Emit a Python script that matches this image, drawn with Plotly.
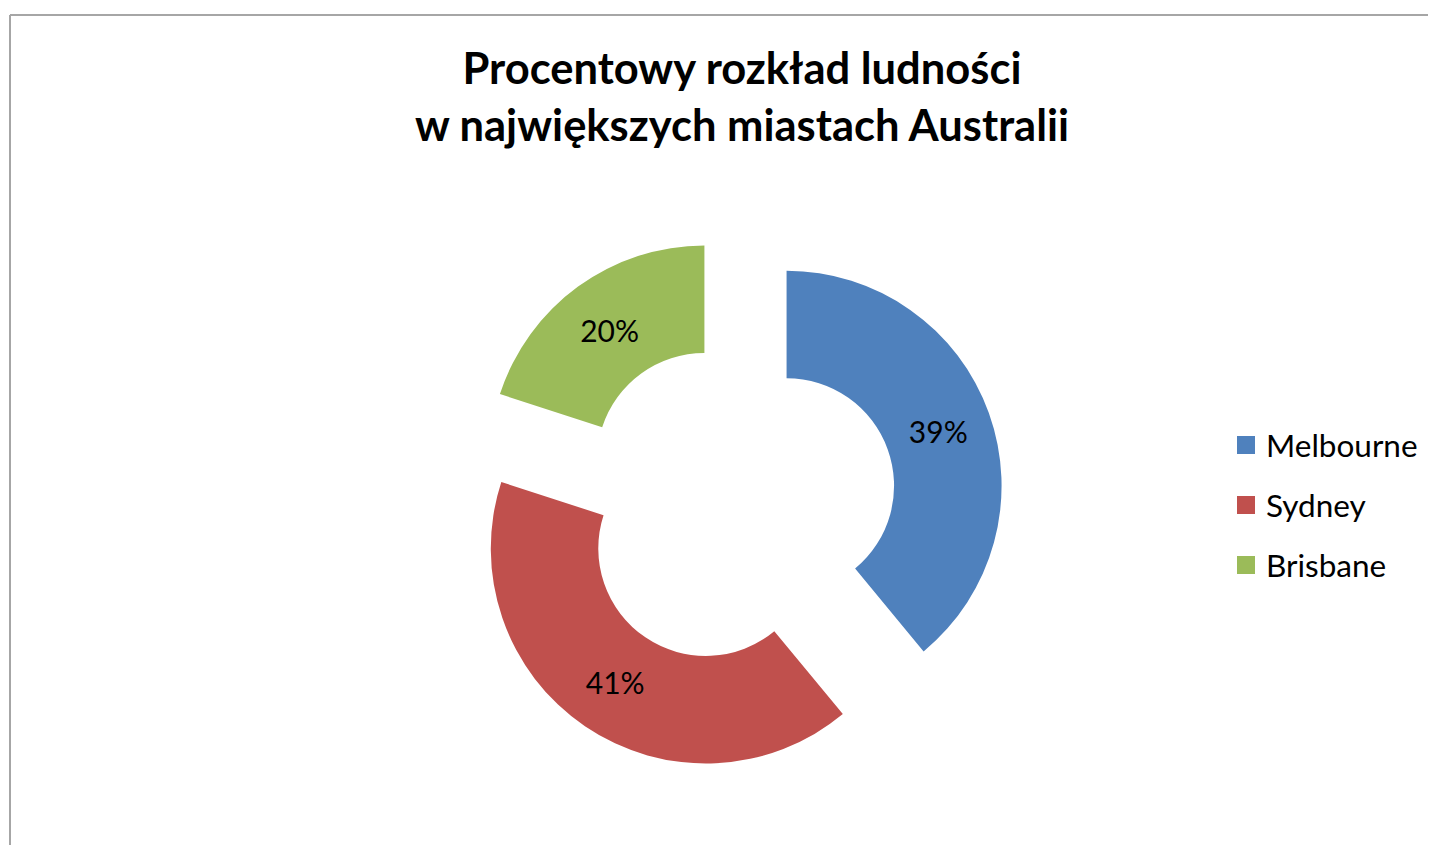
import plotly.graph_objects as go

cities = ["Melbourne", "Sydney", "Brisbane"]
shares = [39, 41, 20]
colors = ["#4F81BD", "#C0504D", "#9BBB59"]
title_lines = ["Procentowy rozkład ludności", "w największych miastach Australii"]

W, H = 1436, 845
OFF = 8  # page body margin offset
FONT = "Lato"

def px_x(v):
    return (v - OFF) / W

def px_y(v):
    return 1 - (v - OFF) / H

fig = go.Figure()

fig.add_trace(go.Pie(
    labels=cities,
    values=shares,
    marker=dict(colors=colors, line=dict(width=0)),
    hole=0.5,
    pull=[0.25] * len(cities),
    sort=False,
    direction="clockwise",
    rotation=0,
    textinfo="percent",
    textposition="inside",
    insidetextorientation="horizontal",
    textfont=dict(family=FONT, size=30, color="#000000"),
    showlegend=False,
    domain=dict(x=[px_x(467.25), px_x(1004.75)], y=[px_y(772.75), px_y(235.25)]),
    hoverinfo="label+percent",
))

# legend entries (square swatches)
for name, col in zip(cities, colors):
    fig.add_trace(go.Scatter(
        x=[None], y=[None], mode="markers", name=name, legendgroup=name,
        marker=dict(symbol="square", size=16, color=col, line=dict(color=col, width=2)),
        showlegend=True,
    ))

fig.update_layout(
    width=W, height=H,
    margin=dict(l=0, r=0, t=0, b=0),
    paper_bgcolor="white", plot_bgcolor="white",
    title=dict(
        text="<b>" + "<br>".join(title_lines) + "</b>",
        x=px_x(742), xanchor="center", xref="paper",
        y=1 - 76 / H, yanchor="top", yref="container",
        font=dict(family=FONT, size=43.5, color="#000000"),
    ),
    xaxis=dict(visible=False),
    yaxis=dict(visible=False),
    legend=dict(
        x=px_x(1226), xanchor="left", y=px_y(505), yanchor="middle",
        font=dict(family=FONT, size=31.5, color="#000000"),
        tracegroupgap=16, bgcolor="rgba(0,0,0,0)",
    ),
    shapes=[
        dict(type="line", xref="paper", yref="paper", x0=px_x(10), x1=1.01, y0=px_y(15), y1=px_y(15),
             line=dict(color="#A6A6A6", width=2)),
        dict(type="line", xref="paper", yref="paper", x0=px_x(10), x1=px_x(10), y0=px_y(15), y1=-0.01,
             line=dict(color="#A6A6A6", width=2)),
    ],
)

fig.write_html("out.html")
